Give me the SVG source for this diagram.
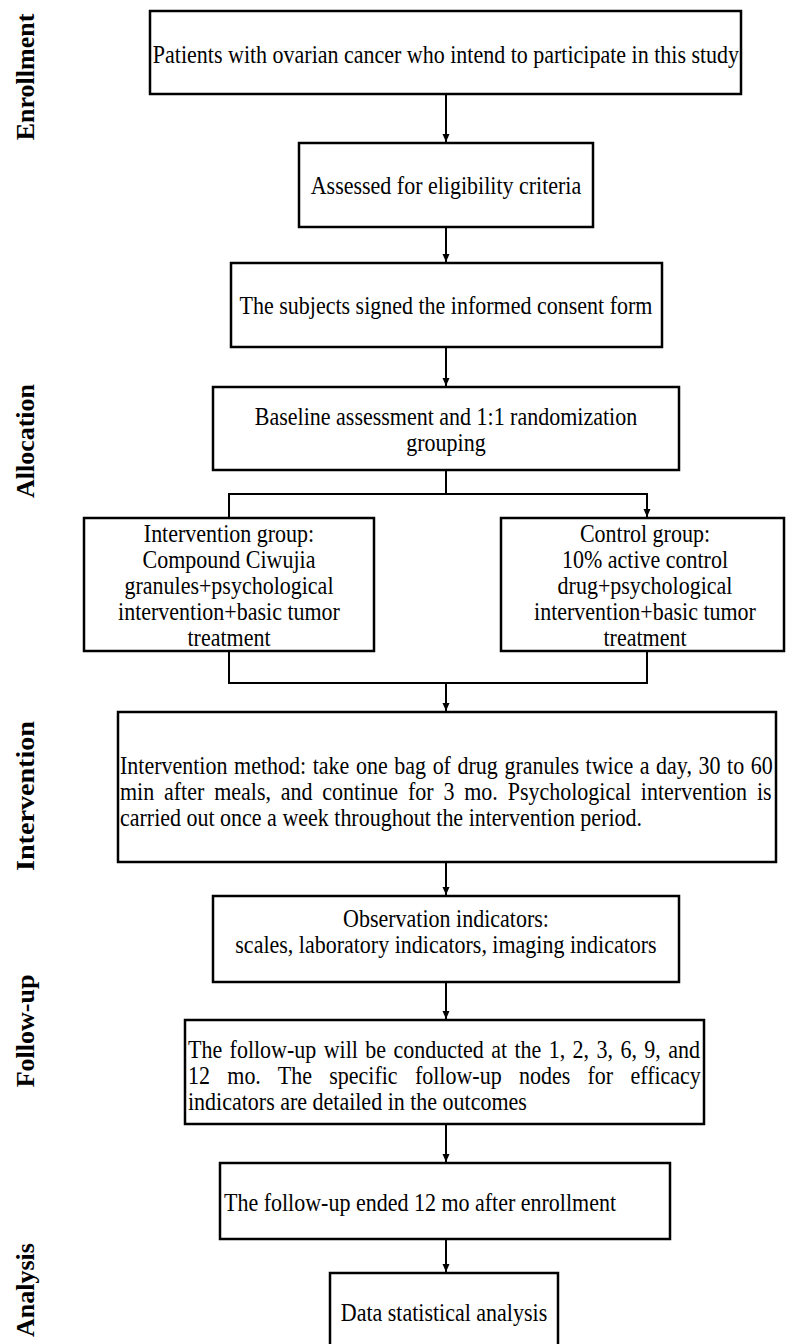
<svg xmlns="http://www.w3.org/2000/svg" width="786" height="1344" viewBox="0 0 786 1344">
<style>
.box{fill:#fff;stroke:#000;stroke-width:2.5}
.t{font-family:"Liberation Serif","Times New Roman",serif;font-size:22px;fill:#000;transform-box:fill-box;transform-origin:center;transform:scaleY(1.14)}
.c{text-anchor:middle}
.lab{font-family:"Liberation Serif","Times New Roman",serif;font-size:26px;font-weight:bold;fill:#000;text-anchor:middle}
.ln{fill:none;stroke:#000;stroke-width:2}
</style>
<defs>
<marker id="ah" markerUnits="userSpaceOnUse" markerWidth="9" markerHeight="9" refX="8" refY="4" orient="auto">
<path d="M0,0.5 L8,4 L0,7.5 z" fill="#000"/>
</marker>
</defs>
<rect width="786" height="1344" fill="#fff"/>
<g id="labels">
<text class="lab" transform="translate(34,77) rotate(-90)">Enrollment</text>
<text class="lab" transform="translate(34,441) rotate(-90)">Allocation</text>
<text class="lab" transform="translate(34,796) rotate(-90)" textLength="150" lengthAdjust="spacingAndGlyphs">Intervention</text>
<text class="lab" transform="translate(34,1031) rotate(-90)">Follow-up</text>
<text class="lab" transform="translate(34,1290) rotate(-90)">Analysis</text>
</g>
<g id="connectors">
<line class="ln" x1="446" y1="95" x2="446" y2="142" marker-end="url(#ah)"/>
<line class="ln" x1="446" y1="228" x2="446" y2="262" marker-end="url(#ah)"/>
<line class="ln" x1="446" y1="348" x2="446" y2="386" marker-end="url(#ah)"/>
<polyline class="ln" points="446,471 446,494"/>
<polyline class="ln" points="229,517 229,494 647,494 647,517" marker-start="url(#ah)" marker-end="url(#ah)"/>
<polyline class="ln" points="229,652 229,683 647,683 647,652"/>
<line class="ln" x1="446" y1="683" x2="446" y2="711" marker-end="url(#ah)"/>
<line class="ln" x1="446" y1="863" x2="446" y2="895" marker-end="url(#ah)"/>
<line class="ln" x1="446" y1="983" x2="446" y2="1019" marker-end="url(#ah)"/>
<line class="ln" x1="446" y1="1125" x2="446" y2="1162" marker-end="url(#ah)"/>
<line class="ln" x1="446" y1="1240" x2="446" y2="1272" marker-end="url(#ah)"/>
</g>
<g id="n1">
<rect class="box" x="150" y="11" width="591" height="83"/>
<text class="t c" x="446" y="62">Patients with ovarian cancer who intend to participate in this study</text>
</g>
<g id="n2">
<rect class="box" x="299" y="143" width="294" height="84"/>
<text class="t c" x="446" y="193">Assessed for eligibility criteria</text>
</g>
<g id="n3">
<rect class="box" x="231" y="263" width="431" height="84"/>
<text class="t c" x="446" y="313">The subjects signed the informed consent form</text>
</g>
<g id="n4">
<rect class="box" x="213" y="387" width="466" height="83"/>
<text class="t c" x="446" y="424">Baseline assessment and 1:1 randomization</text>
<text class="t c" x="446" y="450">grouping</text>
</g>
<g id="n5">
<rect class="box" x="84" y="518" width="290" height="133"/>
<text class="t c" x="229" y="541">Intervention group:</text>
<text class="t c" x="229" y="567">Compound Ciwujia</text>
<text class="t c" x="229" y="593">granules+psychological</text>
<text class="t c" x="229" y="619">intervention+basic tumor</text>
<text class="t c" x="229" y="645">treatment</text>
</g>
<g id="n6">
<rect class="box" x="501" y="518" width="283" height="133"/>
<text class="t c" x="645" y="541">Control group:</text>
<text class="t c" x="645" y="567">10% active control</text>
<text class="t c" x="645" y="593">drug+psychological</text>
<text class="t c" x="645" y="619">intervention+basic tumor</text>
<text class="t c" x="645" y="645">treatment</text>
</g>
<g id="n7">
<rect class="box" x="118" y="712" width="658" height="150"/>
<text class="t" x="120" y="773" word-spacing="1.1">Intervention method: take one bag of drug granules twice a day, 30 to 60</text>
<text class="t" x="120" y="799" word-spacing="4.34">min after meals, and continue for 3 mo. Psychological intervention is</text>
<text class="t" x="120" y="825">carried out once a week throughout the intervention period.</text>
</g>
<g id="n8">
<rect class="box" x="213" y="896" width="466" height="86"/>
<text class="t c" x="446" y="926">Observation indicators:</text>
<text class="t c" x="446" y="952">scales, laboratory indicators, imaging indicators</text>
</g>
<g id="n9">
<rect class="box" x="185" y="1020" width="519" height="104"/>
<text class="t" x="188" y="1057" word-spacing="1.9">The follow-up will be conducted at the 1, 2, 3, 6, 9, and</text>
<text class="t" x="188" y="1083" word-spacing="11.8">12 mo. The specific follow-up nodes for efficacy</text>
<text class="t" x="188" y="1109">indicators are detailed in the outcomes</text>
</g>
<g id="n10">
<rect class="box" x="220" y="1163" width="450" height="76"/>
<text class="t" x="224" y="1210">The follow-up ended 12 mo after enrollment</text>
</g>
<g id="n11">
<rect class="box" x="330" y="1273" width="228" height="90"/>
<text class="t c" x="444" y="1320">Data statistical analysis</text>
</g>
</svg>
